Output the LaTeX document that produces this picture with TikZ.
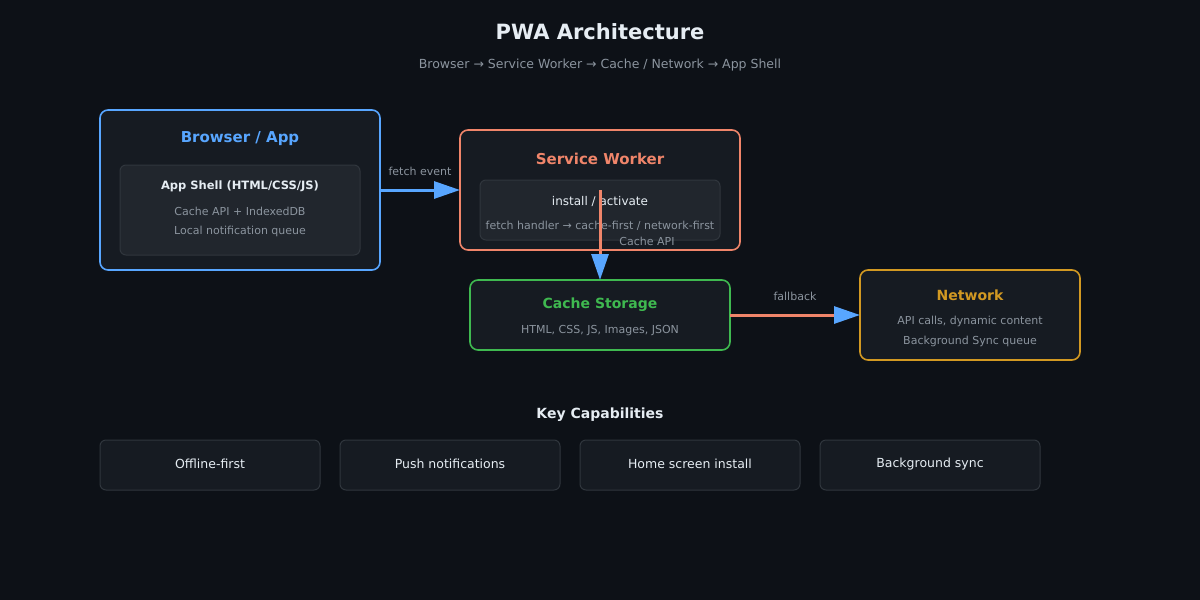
\documentclass[tikz,border=0pt]{standalone}
\usepackage{fontspec}
\setmainfont{DejaVu Sans}
\usetikzlibrary{arrows.meta}
\definecolor{bg}{HTML}{0D1117}
\definecolor{panel}{HTML}{161B22}
\definecolor{inner}{HTML}{21262D}
\definecolor{edge}{HTML}{30363D}
\definecolor{blu}{HTML}{58A6FF}
\definecolor{sal}{HTML}{F0856A}
\definecolor{grn}{HTML}{3FB950}
\definecolor{gold}{HTML}{D29922}
\definecolor{txt}{HTML}{E6EDF3}
\definecolor{mut}{HTML}{8B949E}
\tikzset{
 box/.style={rounded corners=8pt,line width=1.6pt,fill=panel},
 ibox/.style={rounded corners=6pt,line width=1pt,draw=edge,fill=inner},
 capbox/.style={rounded corners=6pt,line width=1pt,draw=edge,fill=panel},
 ttl/.style={font=\fontsize{15}{18}\selectfont\bfseries},
 lbl/.style={font=\fontsize{11}{13}\selectfont,text=mut},
 big/.style={font=\fontsize{12.5}{15}\selectfont,text=txt},
 arr/.style={line width=3pt,-{Triangle[length=26pt,width=17pt,color=blu]}},
}
\begin{document}
\begin{tikzpicture}[x=1pt,y=-1pt]
\fill[bg] (0,0) rectangle (1200,600);
\useasboundingbox (0,0) rectangle (1200,600);
\node[font=\fontsize{21}{25}\selectfont\bfseries,text=txt] (title) at (600,32) {PWA Architecture};
\node[font=\fontsize{12.5}{15}\selectfont,text=mut] (sub) at (600,65) {Browser → Service Worker → Cache / Network → App Shell};
% browser
\draw[box,draw=blu] (100,110) rectangle (380,270);
\node[ttl,text=blu] (bt) at (240,139) {Browser / App};
\draw[ibox] (120,165) rectangle (360,255);
\node[font=\fontsize{11.5}{14}\selectfont\bfseries,text=txt] (bs) at (240,186) {App Shell (HTML/CSS/JS)};
\node[lbl] (b1) at (240,211) {Cache API + IndexedDB};
\node[lbl] (b2) at (240,231) {Local notification queue};
% sw
\draw[box,draw=sal] (460,130) rectangle (740,250);
\node[ttl,text=sal] (st) at (600,159) {Service Worker};
\draw[ibox] (480,180) rectangle (720,240);
\node[font=\fontsize{12}{14}\selectfont,text=txt] (s1) at (600,201) {install / activate};
\node[lbl] (s2) at (600,226) {fetch handler → cache-first / network-first};
% cache
\draw[box,draw=grn] (470,280) rectangle (730,350);
\node[font=\fontsize{14}{17}\selectfont\bfseries,text=grn] (ct) at (600,305) {Cache Storage};
\node[lbl] (c1) at (600,331) {HTML, CSS, JS, Images, JSON};
% network
\draw[box,draw=gold] (860,270) rectangle (1080,360);
\node[font=\fontsize{14}{17}\selectfont\bfseries,text=gold] (nt) at (970,295) {Network};
\node[lbl] (n1) at (970,321) {API calls, dynamic content};
\node[lbl] (n2) at (970,341) {Background Sync queue};
% arrows
\coordinate (a1) at (380,190); \coordinate (a2) at (460,190);
\draw[arr,blu] (a1) -- (a2);
\node[lbl] (fe) at (420,171) {fetch event};
\coordinate (v1) at (600,190); \coordinate (v2) at (600,280);
\draw[arr,sal] (v1) -- (v2);
\node[lbl] (ca) at (647,241) {Cache API};
\coordinate (h1) at (730,315); \coordinate (h2) at (860,315);
\draw[arr,sal] (h1) -- (h2);
\node[lbl] (fb) at (795,296) {fallback};
% caps
\node[font=\fontsize{14}{17}\selectfont\bfseries,text=txt] (kc) at (600,415) {Key Capabilities};
\foreach \x/\t [count=\i] in {100/Offline-first,340/Push notifications,580/Home screen install,820/Background sync}{
 \draw[capbox] (\x,440) rectangle (\x+220,490);
 \node[big] (k\i) at (\x+110,464) {\t};
}
\end{tikzpicture}
\end{document}
